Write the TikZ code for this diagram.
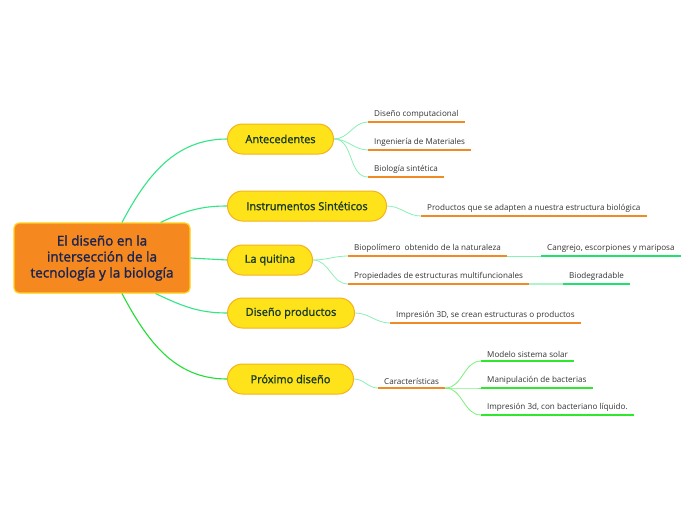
\documentclass[tikz,border=0pt]{standalone}
\usepackage{fontspec}
\setmainfont{Open Sans}
\newfontfamily\semifont{Open Sans}[FakeBold=1.6]
\usetikzlibrary{positioning}
\definecolor{rootfill}{HTML}{F5891F}
\definecolor{rootline}{HTML}{FFD21A}
\definecolor{rootink}{HTML}{1C2452}
\definecolor{topicfill}{HTML}{FFE31A}
\definecolor{topicline}{HTML}{F5B21A}
\definecolor{topicink}{HTML}{173A26}
\definecolor{branch}{HTML}{33E684}
\definecolor{branchlime}{HTML}{22DD33}
\definecolor{twig}{HTML}{8AF0B4}
\definecolor{twiglime}{HTML}{7CF07C}
\definecolor{lineorange}{HTML}{F08A24}
\definecolor{linegreen}{HTML}{22E070}
\definecolor{linelime}{HTML}{2EE82E}
\definecolor{leafink}{HTML}{333333}

\begin{document}
\begin{tikzpicture}[
  x=1pt, y=-1pt,
  root/.style={draw=rootline, line width=1.2pt, fill=rootfill, rounded corners=5pt,
    align=center, text=rootink, minimum width=176pt, minimum height=70pt,
    font=\semifont\fontsize{13.5}{16}\selectfont},
  topic/.style={draw=topicline, line width=1pt, fill=topicfill, rounded corners=15pt,
    anchor=west, minimum height=30pt, inner xsep=15pt, text=topicink,
    font=\semifont\fontsize{11}{13}\selectfont},
  leaf/.style={anchor=south west, inner xsep=6pt, inner ysep=3pt, text=leafink,
    font=\fontsize{8.1}{9.5}\selectfont},
  uline/.style={draw=lineorange, line width=1.6pt},
  gline/.style={draw=linegreen, line width=1.6pt},
  lline/.style={draw=linelime, line width=1.6pt},
  branchline/.style={draw=branch, line width=1.1pt},
  twigline/.style={draw=twig, line width=0.8pt}
]
\useasboundingbox (0,0) rectangle (696,520);
\fill[white] (0,0) rectangle (696,520);

% central topic
\node[root] (root) at (102,258) {El diseño en la\\intersección de la\\tecnología y la biología};

% main topics
\node[topic, minimum width=106pt] (ante) at (227,139) {Antecedentes};
\node[topic, minimum width=159pt] (inst) at (227,206) {Instrumentos Sintéticos};
\node[topic, minimum width=85pt] (quit) at (227,260) {La quitina};
\node[topic, minimum width=127pt] (dise) at (227,313) {Diseño productos};
\node[topic, minimum width=126pt] (prox) at (227,379) {Próximo diseño};

% subtopics
\node[leaf] (comp) at (368,122) {Diseño computacional};
\node[leaf] (inge) at (368,150) {Ingeniería de Materiales};
\node[leaf] (biol) at (368,177) {Biología sintética};
\node[leaf] (prod) at (421,216) {Productos que se adapten a nuestra estructura biológica};
\node[leaf] (biop) at (348,256) {Biopolímero\ \ obtenido de la naturaleza};
\node[leaf] (prop) at (348,284) {Propiedades de estructuras multifuncionales};
\node[leaf] (cang) at (541,256) {Cangrejo, escorpiones y mariposa};
\node[leaf] (biod) at (563,284) {Biodegradable};
\node[leaf] (impr) at (390,323) {Impresión 3D, se crean estructuras o productos};
\node[leaf] (cara) at (378,388) {Características};
\node[leaf] (mode) at (481,361) {Modelo sistema solar};
\node[leaf] (mani) at (481,388) {Manipulación de bacterias};
\node[leaf] (imbi) at (481,415) {Impresión 3d, con bacteriano líquido.};

% underlines
\foreach \n in {comp, inge, biol, prod, biop, prop, impr, cara}
  \draw[uline] (\n.south west) -- (\n.south east);
\foreach \n in {cang, biod}
  \draw[gline] (\n.south west) -- (\n.south east);
\foreach \n in {mode, mani, imbi}
  \draw[lline] (\n.south west) -- (\n.south east);

% branches from the centre
\draw[branchline] ([xshift=20pt]root.north) to[out=62, in=180] (ante.west);
\draw[branchline] ([xshift=-30pt]root.north east) to[out=25, in=180] (inst.west);
\draw[branchline] (root.east) -- (quit.west);
\draw[branchline] ([xshift=-35pt]root.south east) to[out=-25, in=180] (dise.west);
\draw[branchline, draw=branchlime] ([xshift=20pt]root.south) to[out=-62, in=180] (prox.west);

% twigs
\foreach \n in {comp, inge, biol}
  \draw[twigline] (ante.east) to[out=0, in=180] (\n.south west);
\draw[twigline] (inst.east) to[out=0, in=180] (prod.south west);
\foreach \n in {biop, prop}
  \draw[twigline] (quit.east) to[out=0, in=180] (\n.south west);
\draw[twigline] (biop.south east) -- (cang.south west);
\draw[twigline, line width=2pt, draw=twig!70] (prop.south east) -- (biod.south west);
\draw[twigline] (dise.east) to[out=0, in=180] (impr.south west);
\draw[twigline] (prox.east) to[out=0, in=180] (cara.south west);
\foreach \n in {mode, mani, imbi}
  \draw[twigline, draw=twiglime] (cara.south east) to[out=0, in=180] (\n.south west);
\end{tikzpicture}
\end{document}
